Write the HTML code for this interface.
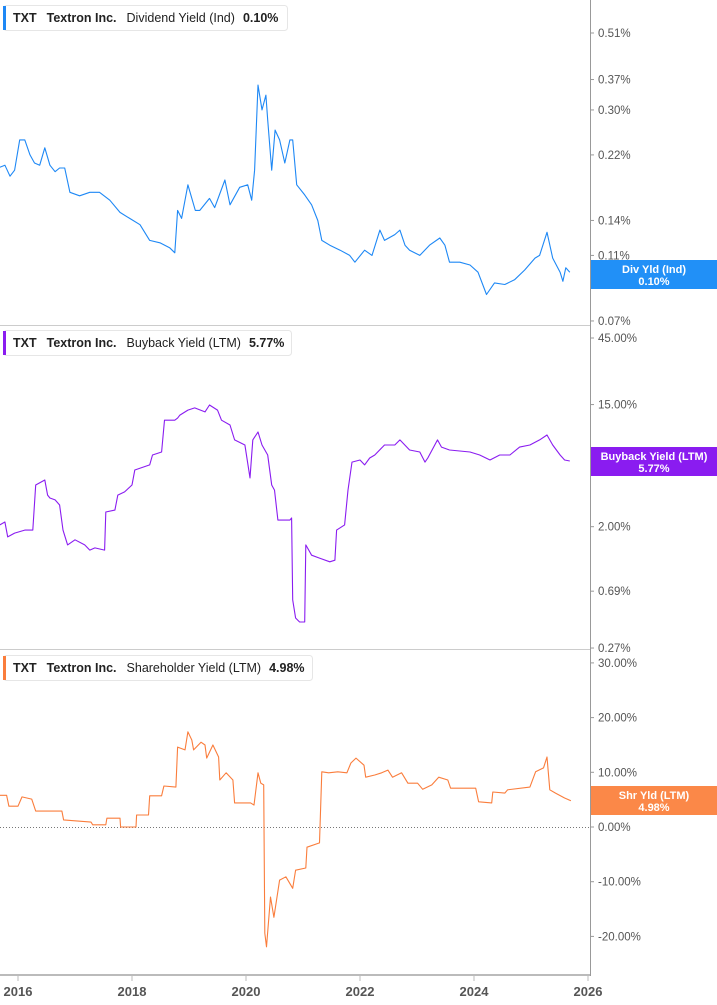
<!DOCTYPE html>
<html><head><meta charset="utf-8">
<style>
body{margin:0;background:#fff;width:717px;height:1005px;overflow:hidden;font-family:"Liberation Sans",Arial,sans-serif;}
svg{display:block}
.tk{font-size:11.5px;fill:#555}
.yr{font-size:13px;fill:#555;font-weight:bold}
.lg{font-size:12.5px;font-weight:bold;fill:#222}
.bx{font-size:11px;font-weight:bold;fill:#fff}
</style></head><body>
<svg id="chart" width="717" height="1005" viewBox="0 0 717 1005" xmlns="http://www.w3.org/2000/svg"></svg>
<script>
// ---- data (years since 2000, percent values) ----
const divDates=[15.68,15.77,15.86,15.94,16.03,16.12,16.21,16.29,16.38,16.47,16.56,16.65,16.73,16.82,16.91,17.08,17.26,17.43,17.61,17.79,17.96,18.14,18.31,18.49,18.66,18.75,18.80,18.87,18.98,19.11,19.19,19.36,19.45,19.63,19.72,19.89,20.03,20.10,20.15,20.21,20.28,20.35,20.38,20.45,20.51,20.59,20.68,20.77,20.82,20.89,21.03,21.15,21.26,21.33,21.47,21.65,21.82,21.91,22.08,22.21,22.35,22.43,22.61,22.70,22.79,22.87,23.05,23.22,23.40,23.49,23.57,23.75,23.93,24.07,24.22,24.36,24.54,24.71,24.89,25.07,25.15,25.28,25.38,25.51,25.56,25.61,25.68];
const divValues=[0.202,0.205,0.190,0.198,0.244,0.244,0.220,0.208,0.205,0.231,0.205,0.196,0.201,0.201,0.170,0.166,0.170,0.170,0.161,0.148,0.142,0.136,0.122,0.120,0.116,0.112,0.150,0.142,0.179,0.150,0.150,0.163,0.153,0.185,0.156,0.176,0.179,0.161,0.198,0.356,0.300,0.332,0.280,0.198,0.261,0.244,0.208,0.244,0.244,0.179,0.167,0.156,0.140,0.122,0.118,0.114,0.110,0.105,0.114,0.110,0.131,0.122,0.127,0.131,0.118,0.114,0.110,0.118,0.124,0.118,0.105,0.105,0.103,0.098,0.084,0.091,0.090,0.093,0.0995,0.108,0.110,0.129,0.108,0.098,0.092,0.101,0.098];
const bbDates=[15.68,15.77,15.82,15.94,16.12,16.26,16.31,16.47,16.52,16.56,16.65,16.73,16.79,16.87,17.00,17.17,17.26,17.35,17.52,17.54,17.70,17.75,17.87,18.00,18.05,18.31,18.36,18.52,18.57,18.75,18.80,18.84,18.98,19.10,19.28,19.36,19.50,19.57,19.72,19.80,19.98,20.07,20.12,20.21,20.28,20.38,20.45,20.50,20.56,20.65,20.72,20.77,20.80,20.82,20.87,20.94,21.03,21.05,21.15,21.29,21.47,21.56,21.59,21.73,21.79,21.86,22.00,22.08,22.17,22.26,22.43,22.61,22.70,22.87,23.05,23.14,23.19,23.36,23.43,23.57,23.93,24.10,24.28,24.45,24.63,24.80,24.98,25.15,25.28,25.38,25.51,25.59,25.68];
const bbValues=[2.06,2.16,1.69,1.80,1.89,1.89,3.98,4.32,3.37,3.21,3.11,2.86,1.89,1.48,1.61,1.48,1.36,1.41,1.36,2.55,2.63,3.37,3.55,3.98,5.10,5.54,6.53,6.86,11.6,11.6,12.0,12.6,13.7,14.2,13.3,14.9,13.7,11.6,10.7,8.37,7.70,4.47,8.37,9.54,7.70,6.53,3.98,3.66,2.23,2.23,2.23,2.23,2.31,0.597,0.443,0.415,0.415,1.48,1.25,1.19,1.12,1.15,1.89,2.06,3.66,5.81,6.01,5.54,6.21,6.53,7.70,7.70,8.37,7.09,6.86,5.81,6.21,8.37,7.44,7.09,6.86,6.53,6.01,6.53,6.53,7.44,7.70,8.37,9.08,7.70,6.53,6.01,5.91];
const shDates=[15.68,15.80,15.84,16.00,16.07,16.24,16.31,16.77,16.80,17.28,17.31,17.54,17.56,17.79,17.80,18.07,18.08,18.29,18.31,18.52,18.56,18.77,18.80,18.93,18.98,19.05,19.08,19.21,19.28,19.31,19.42,19.52,19.54,19.65,19.77,19.80,20.08,20.14,20.21,20.26,20.31,20.33,20.36,20.43,20.49,20.59,20.70,20.82,20.87,21.05,21.07,21.29,21.33,21.45,21.61,21.77,21.84,21.93,22.07,22.10,22.26,22.38,22.49,22.57,22.73,22.84,23.01,23.10,23.26,23.38,23.54,23.59,24.03,24.08,24.31,24.33,24.54,24.59,24.98,25.08,25.22,25.28,25.33,25.43,25.59,25.70];
const shValues=[5.8,5.8,3.8,3.8,5.5,5.1,2.9,2.9,1.3,0.9,0.4,0.4,1.6,1.6,0.0,0.0,2.2,2.2,5.7,5.7,7.5,7.3,14.6,14.1,17.4,15.9,14.1,15.5,15.0,12.6,15.0,12.8,8.6,9.9,8.6,4.4,4.4,4.0,9.9,8.0,7.7,-19.4,-21.9,-12.8,-16.5,-9.7,-9.1,-11.2,-7.9,-7.5,-3.7,-2.9,10.1,9.9,10.1,9.9,11.7,12.6,11.3,9.1,9.5,9.9,10.4,9.1,9.9,8.0,8.0,6.9,7.7,9.1,8.6,7.1,7.1,4.6,4.4,6.4,6.2,6.8,7.3,10.1,10.8,12.8,6.8,6.2,5.3,4.8];
const yearTicks=[2016,2018,2020,2022,2024,2026];
const divTicks=[0.51,0.37,0.30,0.22,0.14,0.11,0.07];
const divTickLabels=["0.51%","0.37%","0.30%","0.22%","0.14%","0.11%","0.07%"];
const bbTicks=[45,15,2,0.69,0.27];
const bbTickLabels=["45.00%","15.00%","2.00%","0.69%","0.27%"];
const shTicks=[30,20,10,0,-10,-20];
const shTickLabels=["30.00%","20.00%","10.00%","0.00%","-10.00%","-20.00%"];

const NS="http://www.w3.org/2000/svg";
const svg=document.getElementById('chart');
function mk(tag,attrs,parent){const e=document.createElementNS(NS,tag);for(const k in attrs)e.setAttribute(k,attrs[k]);(parent||svg).appendChild(e);return e;}
const AX=590;
const xOf=t=>18+((t<100?t+2000:t)-2016)*57;
const yDiv=v=>33+145*Math.log(0.51/v);
const yBB=v=>338+60.6*Math.log(45/v);
const ySh=v=>827-5.47*v;

// frame
let e;
e=mk('line',{x1:0,y1:325.5,x2:AX,y2:325.5,stroke:'#ccc'});


e=mk('line',{x1:0,y1:649.5,x2:AX,y2:649.5,stroke:'#ccc'});


e=mk('line',{x1:AX+0.5,y1:0,x2:AX+0.5,y2:976,stroke:'#999'});


e=mk('line',{x1:0,y1:975,x2:AX,y2:975,stroke:'#bbb','stroke-width':2});


e=mk('line',{x1:0,y1:827.5,x2:AX,y2:827.5,stroke:'#777','stroke-dasharray':'1,2'});



yearTicks.forEach(y=>{
  const x=xOf(y);
  const t=mk('line',{x1:x,y1:975,x2:x,y2:981,stroke:'#bbb'});
  
  
  const l=mk('text',{x:x,y:996,'text-anchor':'middle',class:'yr'});l.textContent=y;
  
  
});
function yTicks(vals,labels,fn,name){
  vals.forEach((v,i)=>{
    const y=fn(v);
    const t=mk('line',{x1:AX+1,y1:y,x2:AX+4,y2:y,stroke:'#999'});
    
    
    const l=mk('text',{x:598,y:y+4,class:'tk'});l.textContent=labels[i];
    
    
  });
}
yTicks(divTicks,divTickLabels,yDiv,'div-axis');
yTicks(bbTicks,bbTickLabels,yBB,'buyback-axis');
yTicks(shTicks,shTickLabels,ySh,'shareholder-axis');

function series(dates,vals,fn,color,name){
  const d=dates.map((t,i)=>(i?'L':'M')+xOf(t).toFixed(1)+','+fn(vals[i]).toFixed(1)).join('');
  const p=mk('path',{d:d,fill:'none',stroke:color,'stroke-width':1.1,'stroke-linejoin':'round'});
  
  
}
series(divDates,divValues,yDiv,'#1e88f5','dividend-yield-line');
series(bbDates,bbValues,yBB,'#8a1cf0','buyback-yield-line');
series(shDates,shValues,ySh,'#fa7d3c','shareholder-yield-line');

function valBox(y,h,color,l1,l2,name){
  const g=mk('g',{});
  
  
  mk('rect',{x:AX+1,y:y,width:717-AX,height:h,fill:color},g);
  const a=mk('text',{x:654,y:y+13,'text-anchor':'middle',class:'bx'},g);a.textContent=l1;
  const b=mk('text',{x:654,y:y+25,'text-anchor':'middle',class:'bx'},g);b.textContent=l2;
}
valBox(260,29,'#2190f7','Div Yld (Ind)','0.10%','div-value-badge');
valBox(447,29,'#8a1cf0','Buyback Yield (LTM)','5.77%','buyback-value-badge');
valBox(786,29,'#fb8848','Shr Yld (LTM)','4.98%','shareholder-value-badge');

function legend(y,w,color,metric,val,name){
  const g=mk('g',{});
  
  
  mk('rect',{x:3.5,y:y+0.5,width:w,height:25,rx:3,fill:'#fff',stroke:'#e6e6e6'},g);
  mk('rect',{x:3,y:y+1,width:3,height:24,fill:color},g);
  const t=mk('text',{x:13,y:y+17,class:'lg'},g);
  t.innerHTML='TXT<tspan dx="10">Textron Inc.</tspan><tspan dx="10" font-weight="normal" fill="#222">'+metric+'</tspan><tspan dx="8">'+val+'</tspan>';
}
legend(5,284,'#1e88f5','Dividend Yield (Ind)','0.10%','legend-dividend');
legend(330,288,'#8a1cf0','Buyback Yield (LTM)','5.77%','legend-buyback');
legend(655,309,'#fa7d3c','Shareholder Yield (LTM)','4.98%','legend-shareholder');
</script>
</body></html>
